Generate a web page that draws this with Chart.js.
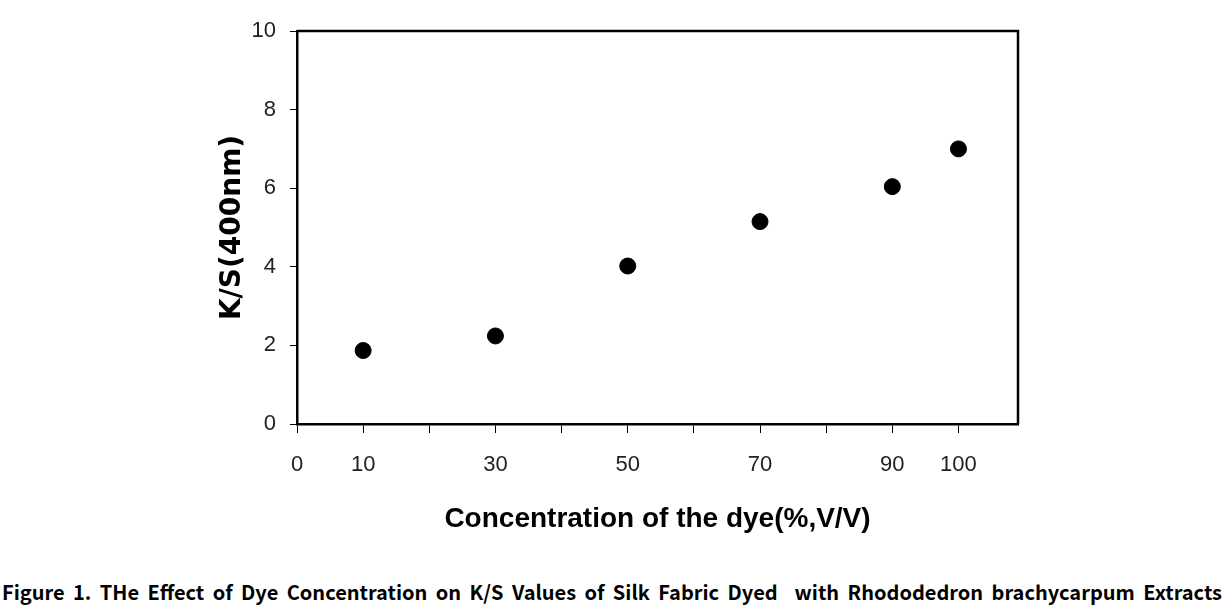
<!DOCTYPE html>
<html>
<head>
<meta charset="utf-8">
<script src="https://cdn.jsdelivr.net/npm/chart.js@4.4.1/dist/chart.umd.min.js"></script>
<style>
  html, body { margin: 0; padding: 0; background: #fff; }
  #wrap { position: relative; width: 1232px; height: 615px; }
  #box { position: absolute; left: 0; top: 0; width: 1232px; height: 560px; }
  #caption {
    position: absolute; left: 2px; top: 577px; width: 1220px;
    font-family: "Noto Sans CJK KR", "Noto Sans", sans-serif;
    font-weight: bold; font-size: 20px; color: #000;
    text-align: justify; text-align-last: justify; white-space: nowrap;
  }
</style>
</head>
<body>
<div id="wrap">
  <div id="box"><canvas id="ksChart"></canvas></div>
  <div id="caption">Figure 1. THe Effect of Dye Concentration on K/S Values of Silk Fabric Dyed &nbsp;with Rhododedron brachycarpum Extracts</div>
</div>
<script>
// data
const concentration = [10, 30, 50, 70, 90, 100];
const ksValues = [1.87, 2.24, 4.02, 5.15, 6.04, 7.0];
const xTickLabels = [0, 10, 30, 50, 70, 90, 100];
const yTicks = [0, 2, 4, 6, 8, 10];

const ctx = document.getElementById('ksChart').getContext('2d');

// draws the top and right edge of the plot frame
const frameBox = {
  id: 'frameBox',
  afterDraw(chart) {
    const { ctx, chartArea } = chart;
    ctx.save();
    ctx.strokeStyle = '#000';
    ctx.lineWidth = 2.5;
    ctx.beginPath();
    ctx.moveTo(chartArea.left, chartArea.top);
    ctx.lineTo(chartArea.right, chartArea.top);
    ctx.lineTo(chartArea.right, chartArea.bottom);
    ctx.stroke();
    ctx.restore();
  },
};

const tickFont = { family: '"Liberation Sans Narrow", "Liberation Sans", sans-serif', size: 22 };

new Chart(ctx, {
  type: 'scatter',
  data: {
    datasets: [{
      label: 'K/S',
      data: concentration.map((c, i) => ({ x: c, y: ksValues[i] })),
      backgroundColor: '#000',
      borderColor: '#000',
      pointRadius: 8,
      pointHoverRadius: 8,
      showLine: false,
    }],
  },
  options: {
    responsive: true,
    maintainAspectRatio: false,
    animation: false,
    layout: { padding: { left: 200, right: 214, top: 31, bottom: 0 } },
    plugins: {
      legend: { display: false },
      tooltip: { enabled: false },
    },
    scales: {
      x: {
        type: 'linear',
        min: 0,
        max: 109,
        afterFit: (scale) => { scale.height = 136; },
        border: { display: true, color: '#000', width: 2.5 },
        grid: { drawOnChartArea: false, drawTicks: true, tickLength: 9, color: '#000', lineWidth: 1 },
        ticks: {
          stepSize: 10,
          includeBounds: false,
          autoSkip: false,
          maxRotation: 0,
          color: '#222',
          font: tickFont,
          padding: 19,
          callback: (v) => (xTickLabels.includes(v) ? String(v) : ''),
        },
        title: {
          display: true,
          text: 'Concentration of the dye(%,V/V)',
          color: '#000',
          font: { family: '"Liberation Sans Narrow", "Liberation Sans", sans-serif', size: 28, weight: 'bold' },
          padding: { top: 0, bottom: 24 },
        },
      },
      y: {
        min: 0,
        max: 10,
        afterFit: (scale) => { scale.width = 97; },
        afterBuildTicks: (scale) => { scale.ticks = yTicks.map((v) => ({ value: v })); },
        border: { display: true, color: '#000', width: 2.5 },
        grid: { drawOnChartArea: false, drawTicks: true, tickLength: 7, color: '#000', lineWidth: 1 },
        ticks: {
          color: '#222',
          font: tickFont,
          padding: 14,
        },
        title: {
          display: true,
          text: 'K/S(400nm)',
          color: '#000',
          font: { family: '"DejaVu Sans", sans-serif', size: 28, weight: 'bold' },
          padding: { top: 16, bottom: 0 },
        },
      },
    },
  },
  plugins: [frameBox],
});
</script>
</body>
</html>
